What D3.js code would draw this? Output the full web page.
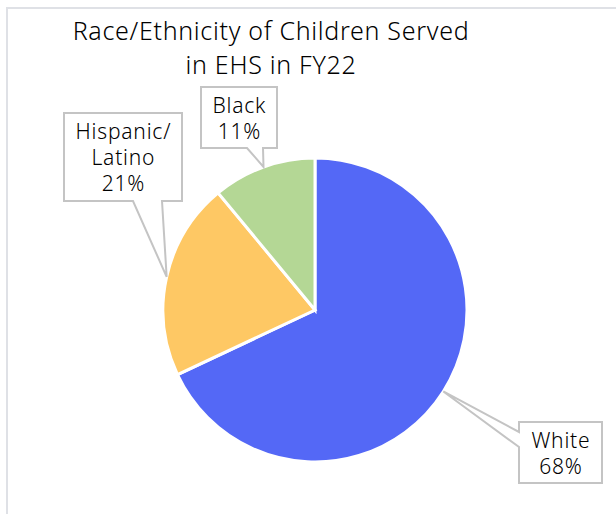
<!DOCTYPE html>
<html>
<head>
<meta charset="utf-8">
<script src="https://cdn.jsdelivr.net/npm/d3@7"></script>
<style>
  html, body { margin: 0; padding: 0; background: #fff; }
  svg { display: block; }
  text { font-family: "Noto Sans", sans-serif; font-weight: 300; fill: #000; }
</style>
</head>
<body>
<svg id="chart" width="616" height="514"></svg>
<script>
const categories = ['White', 'Hispanic/Latino', 'Black'];
const values = [68, 21, 11];
const labelLines = [['White', '68%'], ['Hispanic/', 'Latino', '21%'], ['Black', '11%']];
const titleLines = ['Race/Ethnicity of Children Served', 'in EHS in FY22'];

const colors = ['#5468f6', '#fec864', '#b4d795'];

const svg = d3.select('#chart');

// chart frame
svg.append('rect')
  .attr('x', 7).attr('y', 8)
  .attr('width', 700).attr('height', 600)
  .attr('fill', '#fff')
  .attr('stroke', '#dfe1e6')
  .attr('stroke-width', 2);

// title
svg.append('text')
  .attr('text-anchor', 'middle')
  .style('font-size', '25px')
  .style('letter-spacing', '0.7px')
  .selectAll('tspan')
  .data(titleLines)
  .enter()
  .append('tspan')
  .attr('x', 271)
  .attr('y', (d, i) => 40 + i * 34)
  .text(d => d);

const cx = 315;
const cy = 310;
const radius = 152;

const pie = d3.pie().sort(null).value(d => d);
const arcs = pie(values);

const arc = d3.arc().innerRadius(0).outerRadius(radius);
const edge = d3.arc().innerRadius(radius).outerRadius(radius);

const g = svg.append('g').attr('transform', `translate(${cx}, ${cy})`);

g.selectAll('path')
  .data(arcs)
  .enter()
  .append('path')
  .attr('d', arc)
  .attr('fill', (d, i) => colors[i])
  .attr('stroke', '#fff')
  .attr('stroke-width', 3);

// callout boxes (page coords); wedge base on a side of the box
const boxes = [
  { x: 519, y: 422, w: 83, h: 61, side: 'left', a: 432, b: 447 },
  { x: 64, y: 113, w: 118, h: 88, side: 'bottom', a: 133, b: 162 },
  { x: 201, y: 87, w: 76, h: 61, side: 'bottom', a: 247, b: 263 }
];

arcs.forEach((d, i) => {
  const b = boxes[i];
  const c = edge.centroid(d);
  const tx = cx + c[0];
  const ty = cy + c[1];
  const p = d3.path();
  if (b.side === 'bottom') {
    p.moveTo(b.x, b.y);
    p.lineTo(b.x + b.w, b.y);
    p.lineTo(b.x + b.w, b.y + b.h);
    p.lineTo(b.b, b.y + b.h);
    p.lineTo(tx, ty);
    p.lineTo(b.a, b.y + b.h);
    p.lineTo(b.x, b.y + b.h);
    p.closePath();
  } else {
    p.moveTo(b.x, b.y);
    p.lineTo(b.x + b.w, b.y);
    p.lineTo(b.x + b.w, b.y + b.h);
    p.lineTo(b.x, b.y + b.h);
    p.lineTo(b.x, b.b);
    p.lineTo(tx, ty);
    p.lineTo(b.x, b.a);
    p.closePath();
  }
  svg.append('path')
    .attr('d', p.toString())
    .attr('fill', '#fff')
    .attr('stroke', '#c4c4c4')
    .attr('stroke-width', 2)
    .attr('stroke-linejoin', 'miter');

  const lines = labelLines[i];
  svg.append('text')
    .attr('text-anchor', 'middle')
    .style('font-size', '21px')
    .style('letter-spacing', '0.8px')
    .selectAll('tspan')
    .data(lines)
    .enter()
    .append('tspan')
    .attr('x', b.x + b.w / 2 + 0.4)
    .attr('y', (l, j) => b.y + b.h / 2 + 8 + (j - (lines.length - 1) / 2) * 26)
    .text(l => l);
});
</script>
</body>
</html>
